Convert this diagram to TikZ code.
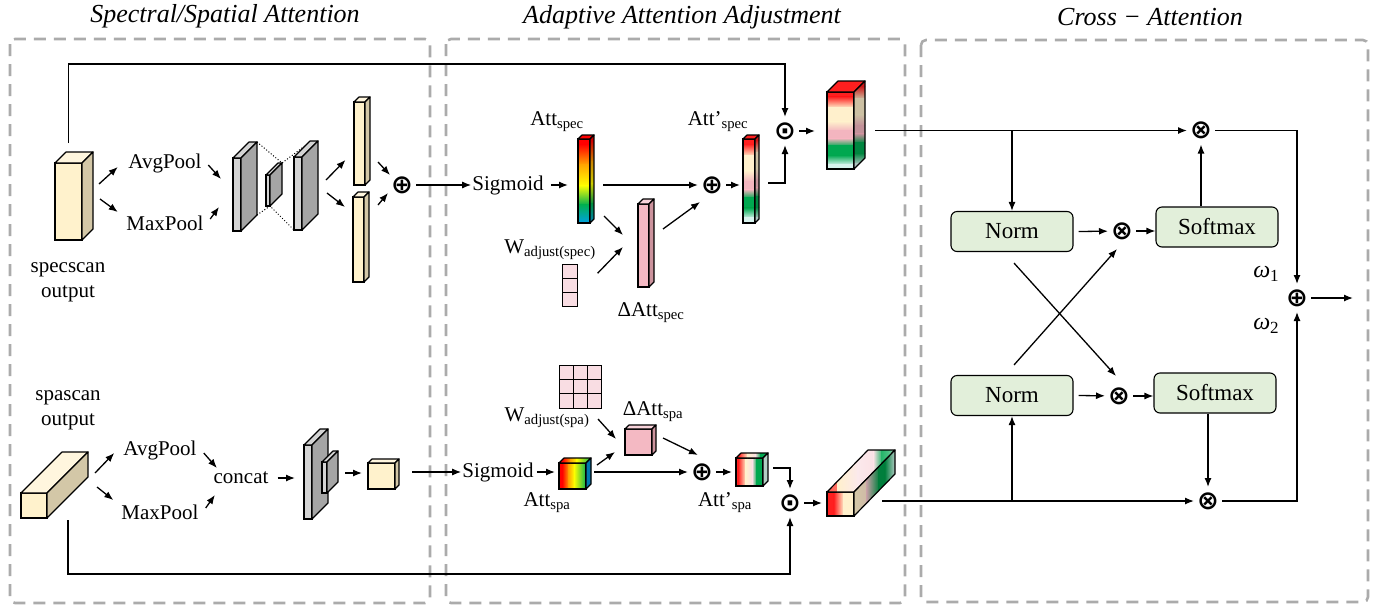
\documentclass[tikz,border=0pt]{standalone}
\usepackage{fontspec}
\setmainfont{Liberation Serif}
\newfontfamily\symfont{DejaVu Sans}
\usetikzlibrary{arrows.meta, calc, positioning}

\definecolor{creamF}{HTML}{FFF2CC}
\definecolor{creamT}{HTML}{FFF6DE}
\definecolor{creamS}{HTML}{D3C7A7}
\definecolor{pinkF}{HTML}{F4B9C3}
\definecolor{pinkT}{HTML}{F8D3DA}
\definecolor{pinkS}{HTML}{CC939D}
\definecolor{wpink}{HTML}{F9DDE3}
\definecolor{grayF}{HTML}{D4D4D4}
\definecolor{grayS}{HTML}{A5A5A5}
\definecolor{normgreen}{HTML}{E2EFDA}
\definecolor{frame}{HTML}{ABABAB}
\definecolor{rRed}{HTML}{FF0000}
\definecolor{rOrange}{HTML}{FFA500}
\definecolor{rYellow}{HTML}{FFFF00}
\definecolor{rGreen}{HTML}{00B050}
\definecolor{rBlue}{HTML}{00A0E8}
\definecolor{aRed}{HTML}{FF1F1F}
\definecolor{aCream}{HTML}{FFF0CC}
\definecolor{aPink}{HTML}{F3B5BF}
\definecolor{aGreen}{HTML}{00A850}
\definecolor{aCyan}{HTML}{D8F3EE}
\definecolor{attDside}{HTML}{B3CFC4}

% colour stops: t1/colour1/t2/colour2
\newcommand{\rainbowV}{0/rRed/0.06/rRed,0.06/rRed/0.3/rOrange,0.3/rOrange/0.55/rYellow,0.55/rYellow/0.78/rGreen,0.78/rGreen/1/rBlue}
\newcommand{\rainbowVdark}{0/rRed!80!black/0.06/rRed!80!black,0.06/rRed!80!black/0.3/rOrange!80!black,0.3/rOrange!80!black/0.55/rYellow!80!black,0.55/rYellow!80!black/0.78/rGreen!80!black,0.78/rGreen!80!black/1/rBlue!80!black}
\newcommand{\attV}{0/aRed/0.06/aRed,0.06/aRed/0.2/aCream,0.2/aCream/0.38/aCream,0.38/aCream/0.5/aPink,0.5/aPink/0.6/aPink,0.6/aPink/0.7/aGreen,0.7/aGreen/0.82/aGreen,0.82/aGreen/0.94/aCyan,0.94/aCyan/1/aCyan}
\newcommand{\attVdark}{0/aRed!80!black/0.06/aRed!80!black,0.06/aRed!80!black/0.2/aCream!80!black,0.2/aCream!80!black/0.38/aCream!80!black,0.38/aCream!80!black/0.5/aPink!80!black,0.5/aPink!80!black/0.6/aPink!80!black,0.6/aPink!80!black/0.7/aGreen!80!black,0.7/aGreen!80!black/0.82/aGreen!80!black,0.82/aGreen!80!black/0.94/aCyan!80!black,0.94/aCyan!80!black/1/aCyan!80!black}
\newcommand{\rainbowH}{0/rRed/0.12/rRed,0.12/rRed/0.35/rOrange,0.35/rOrange/0.55/rYellow,0.55/rYellow/1/rGreen}
\newcommand{\attH}{0/aRed/0.08/aRed,0.08/aRed/0.35/aCream,0.35/aCream/0.6/aPink!45!white,0.6/aPink!45!white/0.75/aGreen,0.75/aGreen/1/aGreen}
\newcommand{\spaFront}{0/aRed/0.25/aRed,0.25/aRed/0.6/aCream,0.6/aCream/1/aCream}
\newcommand{\spaTop}{0/aRed!70!aCream/0.15/aCream,0.15/aCream/0.45/aPink!30!white,0.45/aPink!30!white/0.68/aPink!40!white,0.68/aPink!40!white/0.8/aGreen!85!white,0.8/aGreen!85!white/0.9/aGreen!70!white,0.9/aGreen!70!white/1/aCyan!60!gray}
\newcommand{\spaSide}{0/creamS/0.3/aPink!60!gray,0.3/aPink!60!gray/0.6/aGreen!75!black,0.6/aGreen!75!black/0.75/aGreen!75!black,0.75/aGreen!75!black/1/aCyan!70!gray}

\newcommand{\vgrad}[1]{\foreach \ta/\ca/\tb/\cb in #1{\shade[top color=\ca,bottom color=\cb] ($(path picture bounding box.north west)!\ta!(path picture bounding box.south west)$) rectangle ($(path picture bounding box.north east)!\tb!(path picture bounding box.south east)+(0,0.6)$);}}
\newcommand{\hgrad}[1]{\foreach \ta/\ca/\tb/\cb in #1{\shade[left color=\ca,right color=\cb] ($(path picture bounding box.north west)!\ta!(path picture bounding box.north east)$) rectangle ($(path picture bounding box.south west)!\tb!(path picture bounding box.south east)+(0.6,0)$);}}

% top and side faces of a box whose front face is node #1
\newcommand{\faces}[5]{%
  \draw[line width=1.2pt, line join=round, #4] (#1.north west) -- ($(#1.north west)+(#2,#3)$) -- ($(#1.north east)+(#2,#3)$) -- (#1.north east) -- cycle;
  \draw[line width=1.2pt, line join=round, #5] (#1.north east) -- ($(#1.north east)+(#2,#3)$) -- ($(#1.south east)+(#2,#3)$) -- (#1.south east) -- cycle;}
\newcommand{\omegasub}[1]{{\itshape ω}\raisebox{-0.4ex}{\fontsize{17}{17}\selectfont #1}}

\begin{document}
\begin{tikzpicture}[x=1pt, y=-1pt,
    region/.style={draw=frame, line width=2.6pt, dash pattern=on 12pt off 8pt, rounded corners=5pt},
    heading/.style={font=\fontsize{26}{30}\selectfont\itshape},
    lbl/.style={font=\fontsize{21}{25}\selectfont, inner sep=1pt, align=center},
    face/.style={rectangle, draw, line width=1.2pt, inner sep=0pt, outer sep=0pt},
    op/.style={circle, inner sep=0pt, font=\symfont\bfseries\fontsize{26}{26}\selectfont},
    normbox/.style={rectangle, draw, line width=1.1pt, fill=normgreen, rounded corners=6pt, minimum width=122pt, minimum height=40pt, font=\fontsize{23}{27}\selectfont},
    cell/.style={rectangle, draw, line width=1pt, fill=wpink, minimum width=14.3pt, minimum height=14.3pt, inner sep=0pt},
    arr/.style={-{Latex[length=9pt,width=7pt]}, line width=1.3pt},
    dots/.style={dotted, line width=1pt}
]
\useasboundingbox (0,0) rectangle (1390,606);

% Titles and frames
\node[heading] (hdA) at (225,16) {Spectral/Spatial Attention};
\node[heading] (hdB) at (682,17) {Adaptive Attention Adjustment};
\node[heading] (hdC) at (1150,17) {Cross − Attention};
\draw[region] (10,39) rectangle (430,603);
\draw[region] (446,39) rectangle (905,603);
\draw[region] (921,40) rectangle (1368,602);

% Spectral branch
\node[face, fill=creamF, minimum width=27pt, minimum height=77pt] (specin) at (68.5,201.5) {};
\faces{specin}{11}{-11}{fill=creamT}{fill=creamS}
\node[lbl] (specname) at (68,282) {specscan\\output};
\node[lbl] (avgA) at (165,163) {AvgPool};
\node[lbl] (maxA) at (165,223) {MaxPool};
\node[face, fill=grayF, minimum width=8pt, minimum height=73pt] (encA) at (237,194.5) {};
\faces{encA}{16}{-16}{fill=grayF}{fill=grayS}
\node[face, fill=grayF, minimum width=4pt, minimum height=31pt] (encB) at (268,190.5) {};
\faces{encB}{12}{-12}{fill=grayF}{fill=grayS}
\node[face, fill=grayF, minimum width=8pt, minimum height=73pt] (encC) at (298,193.5) {};
\faces{encC}{16}{-16}{fill=grayF}{fill=grayS}
\node[face, fill=creamF, minimum width=11pt, minimum height=83pt] (vecA) at (359.5,143.5) {};
\faces{vecA}{5}{-5}{fill=creamT}{fill=creamS}
\node[face, fill=creamF, minimum width=11pt, minimum height=85pt] (vecB) at (358.5,239.5) {};
\faces{vecB}{5}{-5}{fill=creamT}{fill=creamS}
\node[op] (plusA) at (402,185) {⊕};

\draw[dots] ($(encA.north east)+(16,-16)$) -- ($(encB.north east)+(12,-12)$) -- ($(encC.north west)+(12,-12)$);
\draw[dots] ($(encA.south east)+(16,-16)$) -- (encB.south east) -- (encC.south west);

\draw[arr] ($(specin.east)+(17,-17.5)$) -- ($(avgA.west)+(-9.5,4)$);
\draw[arr] ($(specin.east)+(18,-2.5)$) -- ($(maxA.west)+(-7.5,-11)$);
\draw[arr] ($(avgA.east)+(5.5,2)$) -- ($(encA.west)+(-12,-15.5)$);
\draw[arr] ($(maxA.east)+(5.5,-4)$) -- ($(encA.west)+(-14,12.5)$);
\draw[arr] ($(encC.east)+(24,-13.5)$) -- ($(vecA.west)+(-8.5,16.5)$);
\draw[arr] ($(encC.east)+(25,-0.5)$) -- ($(vecB.west)+(-8,-32.5)$);
\draw[arr] ($(vecA.east)+(13,18.5)$) -- ($(plusA)+(-12,-10)$);
\draw[arr] ($(vecB.east)+(14,-34.5)$) -- ($(plusA)+(-14,8)$);

% Spatial branch
\node[face, fill=creamF, minimum width=26pt, minimum height=25pt] (spain) at (34,505.5) {};
\faces{spain}{41}{-41}{fill=creamT}{fill=creamS}
\node[lbl] (spaname) at (68,410) {spascan\\output};
\node[lbl] (avgB) at (160,450) {AvgPool};
\node[lbl] (maxB) at (160,512) {MaxPool};
\node[lbl] (cat) at (241,478) {concat};
\node[face, fill=grayF, minimum width=8pt, minimum height=74pt] (encD) at (308,482) {};
\faces{encD}{16}{-16}{fill=grayF}{fill=grayS}
\node[face, fill=grayF, minimum width=5pt, minimum height=31pt] (encE) at (324.5,477.5) {};
\faces{encE}{11}{-11}{fill=grayF}{fill=grayS}
\node[face, fill=creamF, minimum width=27pt, minimum height=26pt] (pool) at (381.5,476) {};
\faces{pool}{4}{-4}{fill=creamT}{fill=creamS}

\draw[arr] ($(spain.east)+(48,-32.5)$) -- ($(avgB.west)+(-8,3)$);
\draw[arr] ($(spain.east)+(50,-18.5)$) -- ($(maxB.west)+(-7,-12)$);
\draw[arr] ($(avgB.east)+(6,3)$) -- ($(cat.west)+(4.5,-10)$);
\draw[arr] ($(maxB.east)+(6,-4)$) -- ($(cat.west)+(2.5,17)$);
\draw[arr, shorten >=9pt] ($(cat.east)+(8,0)$) -- (cat.east -| encD.west);
\draw[arr] ($(encE.east)+(18,-4.5)$) -- ($(pool.west)+(-6,-3)$);

% Adaptive adjustment, spectral
\node[lbl] (sigA) at (508,185) {Sigmoid};
\node[face, minimum width=12pt, minimum height=84pt, path picture={\vgrad{\rainbowV}}] (attA) at (584,181) {};
\faces{attA}{4}{-4}{fill=rRed}{path picture={\vgrad{\rainbowVdark}}}
\node[lbl] (attAname) at (557,122) {Att\textsubscript{spec}};
\node[op] (plusB) at (712,185) {⊕};
\node[face, minimum width=12pt, minimum height=84pt, path picture={\vgrad{\attV}}] (attB) at (749,181) {};
\faces{attB}{4}{-4}{fill=aRed}{path picture={\vgrad{\attVdark}}}
\node[lbl] (attBname) at (718,122) {Att'\textsubscript{spec}};
\node[face, fill=pinkF, minimum width=11pt, minimum height=83pt] (delA) at (643.5,245.5) {};
\faces{delA}{5}{-5}{fill=pinkT}{fill=pinkS}
\node[lbl] (delAname) at (651,313) {ΔAtt\textsubscript{spec}};
\node[lbl] (wAname) at (550,250) {W\textsubscript{adjust(spec)}};
\foreach \i in {0,1,2}
  \node[cell] (wA\i) at (570,{271.2+14.3*\i}) {};
\node[op] (odotA) at (785,131) {⊙};
\node[face, minimum width=27pt, minimum height=77pt, path picture={\vgrad{\attV}}] (specout) at (840.5,130.5) {};
\faces{specout}{11}{-11}{fill=aRed}{path picture={\vgrad{\attVdark}}}

\draw[arr] (plusA) -- (sigA);
\draw[arr, shorten <=6pt, shorten >=10pt] (sigA.east) -- (sigA.east -| attA.west);
\draw[arr] ($(attA.east)+(13,4)$) -- (plusB);
\draw[arr, shorten >=3pt] (plusB) -- (plusB -| attB.west);
\draw[arr] ($(attA.south east)+(14,-7)$) -- ($(delA.west)+(-15,-10.5)$);
\draw[arr] ($(wA0.east)+(20,2)$) -- ($(delA.west)+(-15,1.5)$);
\draw[arr] ($(delA.east)+(14,-16.5)$) -- ($(plusB)+(-12,17)$);
\draw[arr] ($(attB.east)+(13,2)$) -| (odotA);
\draw[arr] ($(specin.north)+(0,-20)$) -- ++(0,-79) -| (odotA);
\draw[arr, shorten >=12pt] (odotA) -- (odotA -| specout.west);

% Adaptive adjustment, spatial
\node[lbl] (sigB) at (498,472) {Sigmoid};
\node[face, minimum width=27pt, minimum height=26pt, path picture={\hgrad{\rainbowH}}] (attC) at (572.5,476) {};
\faces{attC}{5}{-5}{path picture={\hgrad{\rainbowH}}}{fill=rBlue!75!black}
\node[lbl] (attCname) at (547,503) {Att\textsubscript{spa}};
\foreach \r in {0,1,2}
  \foreach \c in {0,1,2}
    \node[cell] (wB\r\c) at ({566.2+14.3*\c},{373+14*\r}) {};
\node[lbl] (wBname) at (547,418) {W\textsubscript{adjust(spa)}};
\node[face, fill=pinkF, minimum width=27pt, minimum height=26pt] (delB) at (638.5,442) {};
\faces{delB}{4}{-4}{fill=pinkT}{fill=pinkS}
\node[lbl] (delBname) at (653,412) {ΔAtt\textsubscript{spa}};
\node[op] (plusC) at (702,472) {⊕};
\node[face, minimum width=27pt, minimum height=28pt, path picture={\hgrad{\attH}}] (attD) at (749.5,472) {};
\faces{attD}{5}{-5}{path picture={\hgrad{\attH}}}{fill=attDside}
\node[lbl] (attDname) at (725,503) {Att'\textsubscript{spa}};
\node[op] (odotB) at (790,503) {⊙};
\node[face, minimum width=27pt, minimum height=24pt, path picture={\hgrad{\spaFront}}] (spaout) at (840.5,504) {};
\faces{spaout}{41}{-42}{path picture={\hgrad{\spaTop}}}{path picture={\hgrad{\spaSide}}}

\draw[arr] ($(pool.east)+(17,-4)$) -- (sigB.west);
\draw[arr, shorten <=2pt, shorten >=4pt] (sigB.east) -- (sigB.east -| attC.west);
\draw[arr] ($(delB.west)+(-27,-23)$) -- ($(delB.west)+(-9,-3)$);
\draw[arr] ($(attC.east)+(11,-11)$) -- ($(delB.west)+(-10,10)$);
\draw[arr] ($(attC.east)+(8,-4)$) -- (plusC);
\draw[arr] ($(delB.east)+(11,-4)$) -- ($(plusC)+(-4,-17)$);
\draw[arr, shorten >=4pt] (plusC) -- (plusC -| attD.west);
\draw[arr] ($(attD.east)+(10,-4)$) -| (odotB);
\draw[arr] ($(spain.south east)+(21,2)$) -- ++(0,54) -| (odotB);
\draw[arr, shorten >=5pt] (odotB) -- (odotB -| spaout.west);

% Cross attention
\node[normbox] (normA) at (1012,231.5) {Norm};
\node[normbox] (softA) at (1217,227) {Softmax};
\node[op] (mulA) at (1122,231) {⊗};
\node[normbox] (normB) at (1012,395.5) {Norm};
\node[normbox] (softB) at (1215,393) {Softmax};
\node[op] (mulB) at (1119,396) {⊗};
\node[op] (mulT) at (1201,130.5) {⊗};
\node[op] (mulD) at (1208,501) {⊗};
\node[op] (sumO) at (1297,298) {⊕};
\node[lbl, font=\fontsize{24}{28}\selectfont] (wone) at (1266,274) {\omegasub{1}};
\node[lbl, font=\fontsize{24}{28}\selectfont] (wtwo) at (1266,326) {\omegasub{2}};
\coordinate (out) at (1353,298);

\draw[arr] ($(specout.east)+(21,0)$) -- (mulT);
\draw[arr] (normA.north |- mulT) -- (normA.north);
\draw[arr] ($(normA.east)+(5,0)$) -- (mulA);
\draw[arr] (mulA) -- (mulA -| softA.west);
\draw[arr] (softA.north -| mulT) -- (mulT);
\draw[arr] ($(normA.south)+(2,11)$) -- ($(mulB)+(-3,-20)$);
\draw[arr] ($(normB.north)+(2,-10)$) -- ($(mulA)+(-5,18)$);
\draw[arr] ($(normB.east)+(5,0)$) -- (mulB);
\draw[arr] (mulB) -- (mulB -| softB.west);
\draw[arr] (softB.south -| mulD) -- (mulD);
\draw[arr] ($(spaout.east)+(28,-3)$) -- (mulD);
\draw[arr] (normB.south |- mulD) -- (normB.south);
\draw[arr] (mulT) -| (sumO);
\draw[arr] (mulD) -| (sumO);
\draw[arr] (sumO) -- (out);
\end{tikzpicture}
\end{document}
